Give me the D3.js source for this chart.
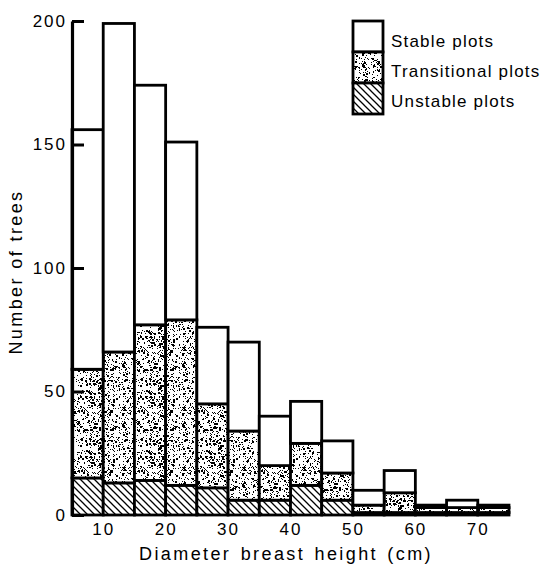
<!DOCTYPE html>
<html>
<head>
<meta charset="utf-8">
<script src="https://cdn.jsdelivr.net/npm/d3@7"></script>
<style>
  html, body { margin: 0; padding: 0; background: #fff; }
  svg { display: block; font-family: "Liberation Sans", Arial, sans-serif; }
</style>
</head>
<body>
<svg id="chart" width="545" height="565"></svg>
<script>
// ---- data ----
const binStarts = [5, 10, 15, 20, 25, 30, 35, 40, 45, 50, 55, 60, 65, 70];
const binWidth = 5;
const unstable     = [15, 13, 14, 12, 11,  6,  6, 12,  6, 1, 1, 1, 1, 1];
const transitional = [44, 53, 63, 67, 34, 28, 14, 17, 11, 3, 8, 2, 2, 2];
const stable       = [97, 133, 97, 72, 31, 36, 20, 17, 13, 6, 9, 1, 3, 1];
const seriesNames = ["Unstable plots", "Transitional plots", "Stable plots"];
const yTicks = [0, 50, 100, 150, 200];
const xTicks = [10, 20, 30, 40, 50, 60, 70];

const svg = d3.select("#chart");
const x = d3.scaleLinear().domain([5, 75]).range([72, 509]);
const y = d3.scaleLinear().domain([0, 200]).range([515, 21]);

// ---- patterns ----
const defs = svg.append("defs");
// stipple (deterministic texture)
const P = 60;
const stip = defs.append("pattern").attr("id", "stipple")
  .attr("patternUnits", "userSpaceOnUse").attr("width", P).attr("height", P);
stip.append("rect").attr("width", P).attr("height", P).attr("fill", "#fff");
let seed = 98765;
function lcg() { seed = (seed * 1103515245 + 12345) % 2147483648; return seed / 2147483648; }
let dots = "";
for (let i = 0; i < 680; i++) {
  const px = Math.floor(lcg() * P), py = Math.floor(lcg() * P);
  const s = lcg() < 0.15 ? 2 : 1;
  dots += `M${px},${py}h${s}v${s}h${-s}z`;
}
stip.append("path").attr("d", dots).attr("fill", "#000").attr("shape-rendering", "crispEdges");
// hatch
const hatch = defs.append("pattern").attr("id", "hatch")
  .attr("patternUnits", "userSpaceOnUse").attr("width", 7).attr("height", 7);
hatch.append("rect").attr("width", 7).attr("height", 7).attr("fill", "#fff");
hatch.append("path").attr("d", "M0,0 L7,7 M-1,6 L1,8 M6,-1 L8,1")
  .attr("stroke", "#000").attr("stroke-width", 1.3);

const fills = { "Unstable plots": "url(#hatch)", "Transitional plots": "url(#stipple)", "Stable plots": "#fff" };

// ---- stacked bars ----
const rows = binStarts.map((b, i) => ({
  bin: b,
  "Unstable plots": unstable[i],
  "Transitional plots": transitional[i],
  "Stable plots": stable[i]
}));
const stacked = d3.stack().keys(seriesNames)(rows);

const gBars = svg.append("g");
stacked.forEach(layer => {
  gBars.selectAll(null).data(layer).join("rect")
    .attr("x", d => x(d.data.bin))
    .attr("width", d => x(d.data.bin + binWidth) - x(d.data.bin))
    .attr("y", d => y(d[1]))
    .attr("height", d => y(d[0]) - y(d[1]))
    .attr("fill", fills[layer.key])
    .attr("stroke", "#000")
    .attr("stroke-width", 2.8);
});

// ---- y axis ----
const yAxis = d3.axisLeft(y).tickValues(yTicks).tickSizeInner(-12).tickSizeOuter(0).tickPadding(5);
const gy = svg.append("g").attr("transform", `translate(${x(5)},0)`).call(yAxis);
gy.select(".domain").attr("stroke", "#000").attr("stroke-width", 3.2);
gy.selectAll(".tick line").attr("stroke", "#000").attr("stroke-width", 3);
gy.selectAll(".tick text").attr("fill", "#000").style("font-size", "17px").style("letter-spacing", "2px")
  .style("font-family", '"Liberation Sans", Arial, sans-serif');

// ---- x axis ----
const xAxis = d3.axisBottom(x).tickValues(xTicks).tickSize(0).tickPadding(8);
const gx = svg.append("g").attr("transform", `translate(0,${y(0)})`).call(xAxis);
gx.select(".domain").remove();
gx.selectAll(".tick text").attr("fill", "#000").style("font-size", "17px").style("letter-spacing", "2px")
  .style("font-family", '"Liberation Sans", Arial, sans-serif');

// ---- axis titles ----
svg.append("text").attr("x", 286).attr("y", 560).attr("text-anchor", "middle")
  .style("font-size", "18px").style("letter-spacing", "2.4px").style("word-spacing", "2px")
  .text("Diameter breast height (cm)");
svg.append("text").attr("transform", "translate(22,272) rotate(-90)").attr("text-anchor", "middle")
  .style("font-size", "18px").style("letter-spacing", "2.4px")
  .text("Number of trees");

// ---- legend ----
const legendItems = ["Stable plots", "Transitional plots", "Unstable plots"];
const lg = svg.append("g");
legendItems.forEach((name, i) => {
  lg.append("rect").attr("x", 353).attr("y", 21 + i * 31).attr("width", 30).attr("height", 31)
    .attr("fill", fills[name]).attr("stroke", "#000").attr("stroke-width", 2.8);
  lg.append("text").attr("x", 391).attr("y", 47 + i * 30)
    .style("font-size", "17px").style("letter-spacing", "1.2px").text(name);
});
</script>
</body>
</html>
